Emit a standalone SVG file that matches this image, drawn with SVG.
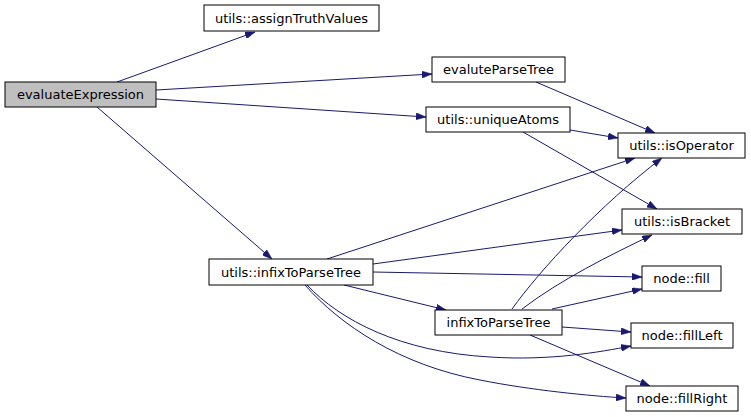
<svg xmlns="http://www.w3.org/2000/svg" width="751" height="417" viewBox="0 0 751 417">
<style>
.node rect{fill:#ffffff;stroke:#000000;stroke-width:1}
.node.root rect{fill:#bfbfbf}
.node text{font-family:"DejaVu Sans",sans-serif;font-size:13px;text-anchor:middle;fill:#000000}
.edges path{fill:none;stroke:#191970;stroke-width:1;marker-end:url(#arr)}
</style>
<defs>
<marker id="arr" viewBox="0 0 10 7" refX="10" refY="3.5" markerWidth="10" markerHeight="7" markerUnits="userSpaceOnUse" orient="auto">
<path d="M0,0 L10,3.5 L0,7 z" fill="#191970" stroke="#191970" stroke-width="0.5"/>
</marker>
</defs>
<rect width="751" height="417" fill="#ffffff"/>
<g class="edges">
<path d="M117,82 L255,32"/>
<path d="M156,90 L432,74"/>
<path d="M156,99 L426,117"/>
<path d="M97,107 L272,259"/>
<path d="M536,82 L655,133"/>
<path d="M570,130 L618,138"/>
<path d="M523,132 L657,209"/>
<path d="M327,259 L635,158"/>
<path d="M373,264 L622,230"/>
<path d="M373,272 L642,277"/>
<path d="M344,285 L446,310"/>
<path d="M307,285 C340,320 400,352 490,357 C550,361 600,352 631,346"/>
<path d="M305,285 C340,325 400,365 480,380 C530,390 590,396 626,398"/>
<path d="M512,309 C540,270 600,205 662,158"/>
<path d="M522,309 C560,280 610,255 652,235"/>
<path d="M552,309 L642,289"/>
<path d="M562,327 L631,332"/>
<path d="M530,335 L650,386"/>
</g>
<g id="evaluateExpression" class="node root"><rect x="5" y="82" width="151" height="25"/><text x="80.5" y="99">evaluateExpression</text></g>
<g id="assignTruthValues" class="node"><rect x="204" y="5" width="175" height="26"/><text x="291.5" y="22.5">utils::assignTruthValues</text></g>
<g id="evaluteParseTree" class="node"><rect x="432" y="57" width="133" height="25"/><text x="498.5" y="74">evaluteParseTree</text></g>
<g id="uniqueAtoms" class="node"><rect x="426" y="107" width="144" height="25"/><text x="498" y="124">utils::uniqueAtoms</text></g>
<g id="isOperator" class="node"><rect x="618" y="133" width="127" height="25"/><text x="681.5" y="150">utils::isOperator</text></g>
<g id="isBracket" class="node"><rect x="622" y="209" width="120" height="25"/><text x="682" y="226">utils::isBracket</text></g>
<g id="utilsInfixToParseTree" class="node"><rect x="209" y="259" width="164" height="26"/><text x="291" y="276.5">utils::infixToParseTree</text></g>
<g id="nodeFill" class="node"><rect x="642" y="266" width="79" height="25"/><text x="681.5" y="283">node::fill</text></g>
<g id="infixToParseTree" class="node"><rect x="435" y="310" width="127" height="25"/><text x="498.5" y="327">infixToParseTree</text></g>
<g id="nodeFillLeft" class="node"><rect x="631" y="323" width="102" height="25"/><text x="682" y="340">node::fillLeft</text></g>
<g id="nodeFillRight" class="node"><rect x="626" y="386" width="112" height="25"/><text x="682" y="403">node::fillRight</text></g>
</svg>
